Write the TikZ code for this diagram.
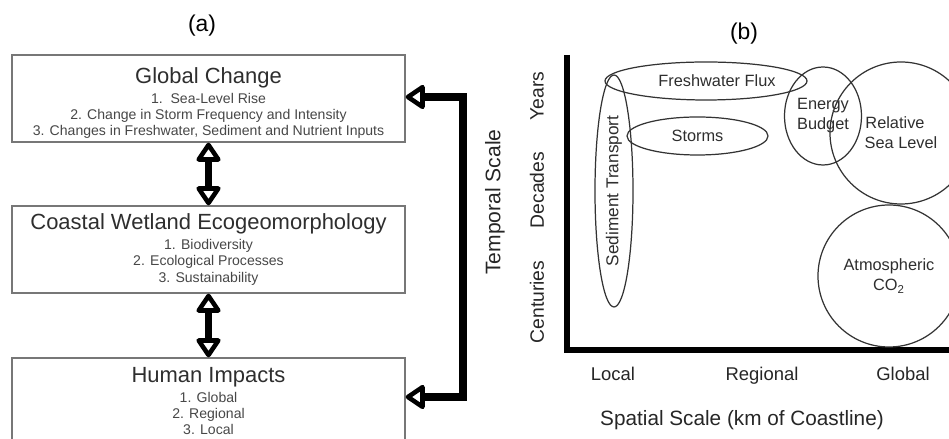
\documentclass[tikz,border=0pt]{standalone}
\usepackage{fontspec}
\setmainfont{Liberation Sans}
\usetikzlibrary{shapes.geometric,arrows.meta}
\definecolor{boxgray}{HTML}{777777}
\definecolor{txtgray}{HTML}{474747}
\definecolor{linegray}{HTML}{333333}
\newcommand{\titre}[1]{{\fontsize{12.5}{15}\selectfont\color{black!82}#1}}

\begin{document}
\begin{tikzpicture}[boxnode/.style={rectangle, draw=boxgray, line width=0.8pt, minimum width=7.86cm, minimum height=1.74cm, inner sep=0pt, align=center, text=txtgray, font=\fontsize{8}{9.2}\selectfont},
ellnode/.style={ellipse, draw=linegray, line width=0.7pt, inner sep=0pt, align=center, text=black!82, font=\fontsize{9.3}{11.3}\selectfont},
roundnode/.style={circle, draw=linegray, line width=0.7pt, inner sep=0pt, minimum size=2.84cm, align=center, text=black!82, font=\fontsize{9.3}{11.3}\selectfont},
bigarrow/.style={line width=4pt, >={Triangle[open, length=0.42cm, width=0.54cm, line width=2.6pt, round]}, <->},
axisline/.style={line width=3.8pt},
scalelabel/.style={text=black!85, font=\fontsize{11}{13}\selectfont},
ticklabel/.style={text=black!85, font=\fontsize{10.5}{12}\selectfont, text height=1.5ex, text depth=0.3ex}]
\clip (0,0) rectangle (18.98,8.78);
\node[font=\fontsize{13}{15}\selectfont] (PanelA) at (4.04,8.26) {(a)};
\node[font=\fontsize{13}{15}\selectfont] (PanelB) at (14.88,8.11) {(b)};
\node[boxnode] (Global) at (4.17,6.81) {\titre{\rule{0pt}{14.5pt}Global Change}\\[2pt] 1.\ \ Sea-Level Rise\\ 2. Change in Storm Frequency and Intensity\\ 3. Changes in Freshwater, Sediment and Nutrient Inputs};
\node[boxnode] (Wetland) at (4.17,3.79) {\titre{Coastal Wetland Ecogeomorphology}\\[2pt] 1. Biodiversity\\ 2. Ecological Processes\\ 3. Sustainability};
\node[boxnode] (Human) at (4.17,0.75) {\titre{Human Impacts}\\[2pt] 1. Global\\ 2. Regional\\ 3. Local};
\coordinate (Haut) at (9.26,6.84);
\coordinate (Bas) at (9.26,0.84);
\draw[bigarrow] (Global.south) -- (Wetland.north);
\draw[bigarrow] (Wetland.south) -- (Human.north);
\draw[bigarrow] (Global.east |- Haut) -- (Haut) -- (Bas) -- (Human.east |- Bas);
\coordinate (HautY) at (11.34,7.68);
\coordinate (Origine) at (11.34,1.78);
\coordinate (FinX) at (19.2,1.78);
\draw[axisline] (HautY) -- (Origine) -- (FinX);
\node[scalelabel, rotate=90, font=\fontsize{12}{14}\selectfont] (Temporal) at (9.90,4.74) {Temporal Scale};
\node[scalelabel, rotate=90] (Years) at (10.74,6.86) {Years};
\node[scalelabel, rotate=90] (Decades) at (10.74,4.98) {Decades};
\node[scalelabel, rotate=90] (Centuries) at (10.74,2.74) {Centuries};
\node[ticklabel] (Local) at (12.26,1.28) {Local};
\node[ticklabel] (Regional) at (15.24,1.28) {Regional};
\node[ticklabel] (GlobalX) at (18.06,1.28) {Global};
\node[scalelabel, font=\fontsize{11.8}{14}\selectfont] (Spatial) at (14.84,0.38) {Spatial Scale (km of Coastline)};
\node[ellnode, minimum width=4.04cm, minimum height=0.76cm] (Fresh) at (14.12,7.16) {\hspace*{0.44cm}Freshwater Flux};
\node[ellnode, minimum width=2.82cm, minimum height=0.76cm] (Storms) at (13.95,6.06) {Storms};
\node[ellnode, rotate=90, minimum width=4.64cm, minimum height=0.76cm, font=\fontsize{9.8}{11.5}\selectfont] (Sediment) at (12.28,4.96) {Sediment Transport};
\node[ellnode, minimum width=1.54cm, minimum height=1.96cm] (Energy) at (16.46,6.46) {Energy\\Budget};
\node[roundnode] (SeaLevel) at (18.02,6.12) {\hspace*{-0.24cm}Relative\\Sea Level};
\node[roundnode] (Atmos) at (17.78,3.26) {Atmospheric\\CO\textsubscript{2}};
\end{tikzpicture}
\end{document}
